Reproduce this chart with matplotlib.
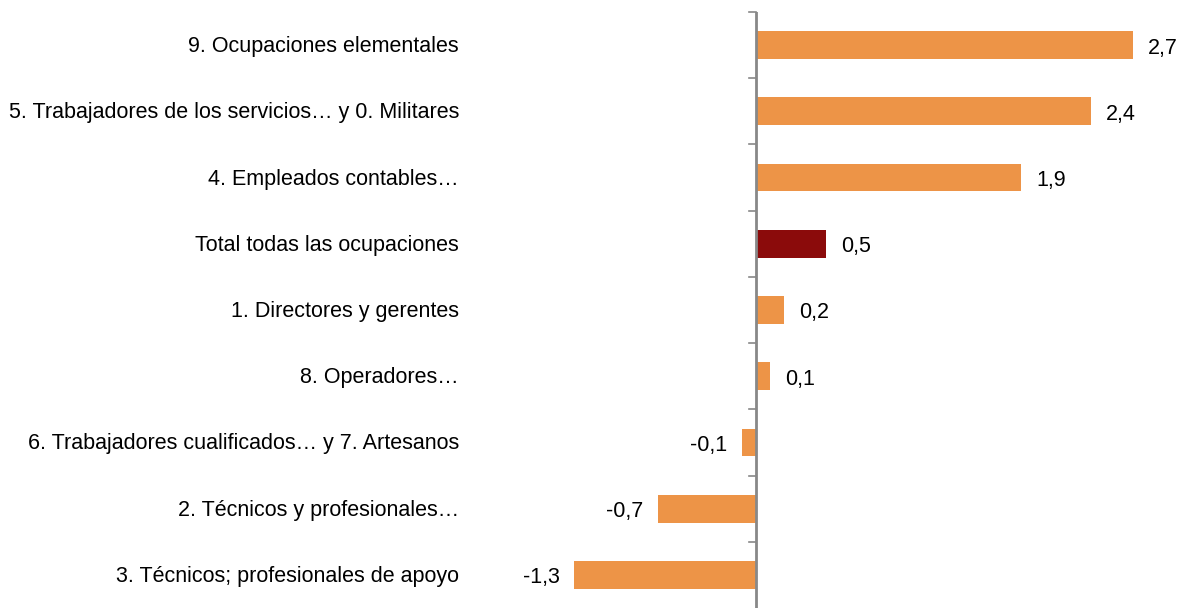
import matplotlib
matplotlib.use("Agg")
import matplotlib.pyplot as plt
import matplotlib.transforms as mtransforms

categories = [
    "9. Ocupaciones elementales",
    "5. Trabajadores de los servicios\u2026 y 0. Militares",
    "4. Empleados contables\u2026",
    "Total todas las ocupaciones",
    "1. Directores y gerentes",
    "8. Operadores\u2026",
    "6. Trabajadores cualificados\u2026 y 7. Artesanos",
    "2. T\u00e9cnicos y profesionales\u2026",
    "3. T\u00e9cnicos; profesionales de apoyo",
]
values = [2.7, 2.4, 1.9, 0.5, 0.2, 0.1, -0.1, -0.7, -1.3]
value_labels = ["2,7", "2,4", "1,9", "0,5", "0,2", "0,1", "-0,1", "-0,7", "-1,3"]
highlight = "Total todas las ocupaciones"

ORANGE = "#ED9447"
DARKRED = "#8B0B0B"

plt.rcParams['font.family'] = ['Liberation Sans', 'DejaVu Sans']

W, H = 1186, 608
fig = plt.figure(figsize=(W / 100, H / 100), dpi=100)
ax_left_px, ax_right_px = 560, 1180
ax_top_px, ax_bot_px = 12, 608
ax = fig.add_axes([ax_left_px / W, 1 - ax_bot_px / H,
                   (ax_right_px - ax_left_px) / W, (ax_bot_px - ax_top_px) / H])

scale = (1133 - 756) / 2.7
ax.set_xlim(-(756 - ax_left_px) / scale, (ax_right_px - 756) / scale)
n = len(categories)
ax.set_ylim(n - 0.5, -0.5)
row_px = (ax_bot_px - ax_top_px) / n

ypos = list(range(n))
colors = [DARKRED if c == highlight else ORANGE for c in categories]
ax.barh(ypos, values, height=0.42, color=colors, zorder=2)

for s in ["top", "right", "bottom", "left"]:
    ax.spines[s].set_visible(False)
ax.axvline(0, color="#888888", lw=2, zorder=3)

ax.set_xticks([])
ax.set_yticks([])
# tick marks at category boundaries
for b in [i - 0.5 for i in range(n)]:
    ax.plot([-7 / scale, 0], [b, b], color="#888888", lw=1.2, zorder=3, clip_on=False)

FS = 15.5
lbl_tr = mtransforms.blended_transform_factory(fig.transFigure, ax.transData)
for y, c in zip(ypos, categories):
    ax.text(459 / W, y + 1.5 / row_px, c, transform=lbl_tr, ha="right", va="center",
            fontsize=FS, color="#000000")

off = 15 / scale
for y, v, t in zip(ypos, values, value_labels):
    yy = y + 3 / row_px
    if v >= 0:
        ax.text(v + off, yy, t, ha="left", va="center", fontsize=FS)
    else:
        ax.text(v - off, yy, t, ha="right", va="center", fontsize=FS)

fig.savefig("out.png", dpi=100)
